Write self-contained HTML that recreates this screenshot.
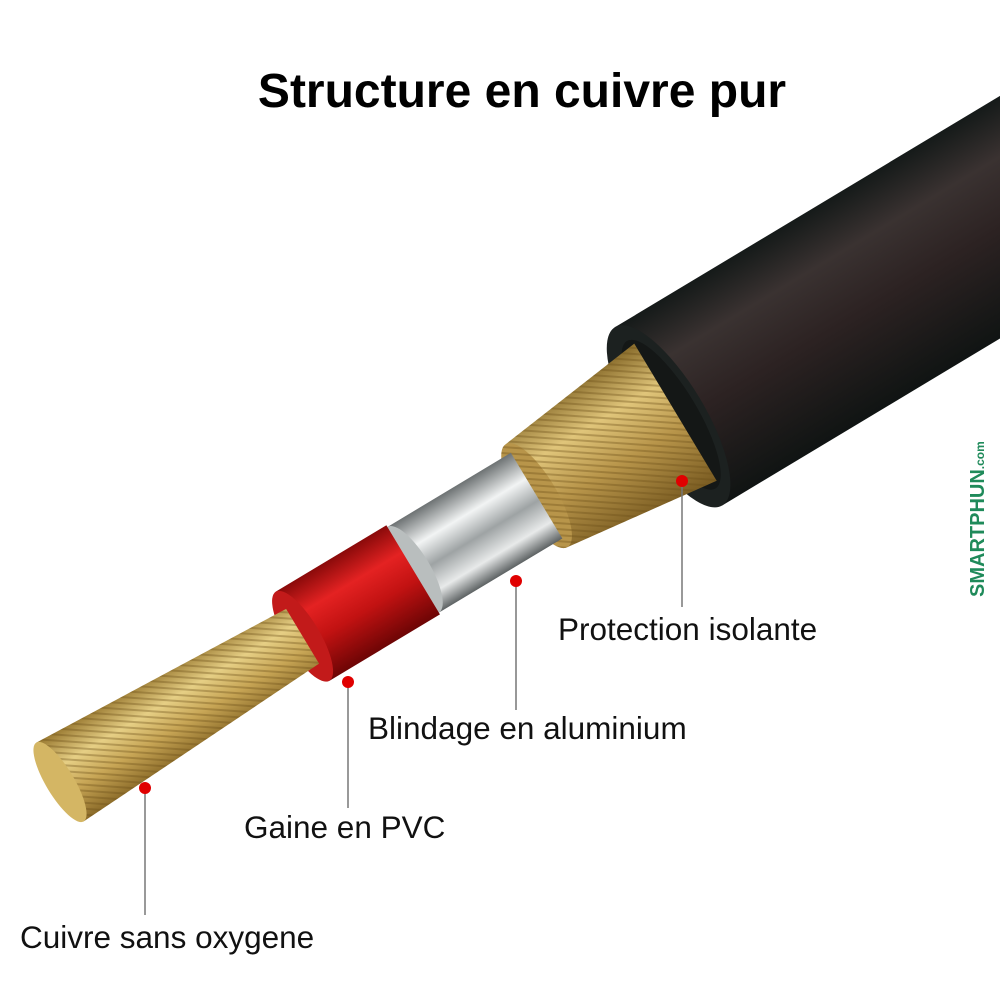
<!DOCTYPE html>
<html><head><meta charset="utf-8"><style>
html,body{margin:0;padding:0;background:#fff;}
svg{display:block}
</style></head><body>
<svg width="1000" height="1000" viewBox="0 0 1000 1000" xmlns="http://www.w3.org/2000/svg">
<defs>
<linearGradient id="jk" x1="0" y1="0" x2="0" y2="1">
<stop offset="0" stop-color="#151a19"/><stop offset="0.25" stop-color="#3a3231"/><stop offset="0.55" stop-color="#2c2222"/><stop offset="1" stop-color="#101413"/></linearGradient>
<linearGradient id="br" x1="0" y1="0" x2="0" y2="1">
<stop offset="0" stop-color="#8a6d2c"/><stop offset="0.3" stop-color="#e0c57a"/><stop offset="0.6" stop-color="#b8954a"/><stop offset="1" stop-color="#7a5c22"/></linearGradient>
<linearGradient id="al" x1="0" y1="0" x2="0" y2="1">
<stop offset="0" stop-color="#6d7273"/><stop offset="0.3" stop-color="#f2f4f4"/><stop offset="0.55" stop-color="#9ea3a4"/><stop offset="0.8" stop-color="#e8eaea"/><stop offset="1" stop-color="#5d6263"/></linearGradient>
<linearGradient id="rd" x1="0" y1="0" x2="0" y2="1">
<stop offset="0" stop-color="#8a0a0a"/><stop offset="0.3" stop-color="#e42222"/><stop offset="0.6" stop-color="#c21212"/><stop offset="1" stop-color="#6d0505"/></linearGradient>
<linearGradient id="cu" x1="0" y1="0" x2="0" y2="1">
<stop offset="0" stop-color="#9a7a32"/><stop offset="0.35" stop-color="#e6cf85"/><stop offset="0.65" stop-color="#c7a555"/><stop offset="1" stop-color="#8a6a28"/></linearGradient>
<pattern id="str" width="6" height="6" patternUnits="userSpaceOnUse" patternTransform="rotate(35)">
<rect width="6" height="2" fill="#6b4e18" opacity="0.35"/></pattern>
</defs>
<g transform="translate(60,782) rotate(-31)">
  <!-- jacket -->
  <rect x="710" y="-104" width="700" height="208" fill="url(#jk)"/>
  <ellipse cx="710" cy="0" rx="36" ry="104" fill="#1c2120"/>
  <ellipse cx="713" cy="0" rx="26" ry="86" fill="#141716"/>
  <!-- braid -->
  <polygon points="556,-60 718,-80 718,80 556,60" fill="url(#br)"/>
  <polygon points="556,-60 718,-80 718,80 556,60" fill="url(#str)"/>
  <ellipse cx="556" cy="0" rx="20" ry="60" fill="#b8954a"/>
  <ellipse cx="556" cy="0" rx="20" ry="60" fill="url(#str)"/>
  <!-- aluminum -->
  <rect x="412" y="-50" width="144" height="100" fill="url(#al)"/>
  <ellipse cx="412" cy="0" rx="17" ry="50" fill="#b9bebe"/>
  <!-- red -->
  <rect x="283" y="-52" width="129" height="104" fill="url(#rd)"/>
  <ellipse cx="283" cy="0" rx="17" ry="52" fill="#c21a1a"/>
  <!-- copper -->
  <polygon points="0,-46 283,-32 283,32 0,46" fill="url(#cu)"/>
  <polygon points="0,-46 283,-32 283,32 0,46" fill="url(#str)"/>
  <ellipse cx="0" cy="0" rx="14" ry="46" fill="#d4b664"/>
</g>
<text x="522" y="107" text-anchor="middle" font-family="Liberation Sans, sans-serif" font-weight="bold" font-size="48" fill="#000">Structure en cuivre pur</text>
<g stroke="#777" stroke-width="1.5">
<line x1="682" y1="481" x2="682" y2="607"/>
<line x1="516" y1="581" x2="516" y2="710"/>
<line x1="348" y1="682" x2="348" y2="808"/>
<line x1="145" y1="788" x2="145" y2="915"/>
</g>
<g fill="#e00000">
<circle cx="682" cy="481" r="6"/><circle cx="516" cy="581" r="6"/><circle cx="348" cy="682" r="6"/><circle cx="145" cy="788" r="6"/>
</g>
<g font-family="Liberation Sans, sans-serif" font-size="31.5" fill="#111">
<text x="558" y="640">Protection isolante</text>
<text x="368" y="739">Blindage en aluminium</text>
<text x="244" y="838">Gaine en PVC</text>
<text x="20" y="948">Cuivre sans oxygene</text>
</g>
<text transform="translate(984,597) rotate(-90)" font-family="Liberation Sans, sans-serif" font-weight="bold" font-size="20" fill="#1f8a5a">SMARTPHUN<tspan font-size="12">.com</tspan></text>
</svg>
</body></html>
